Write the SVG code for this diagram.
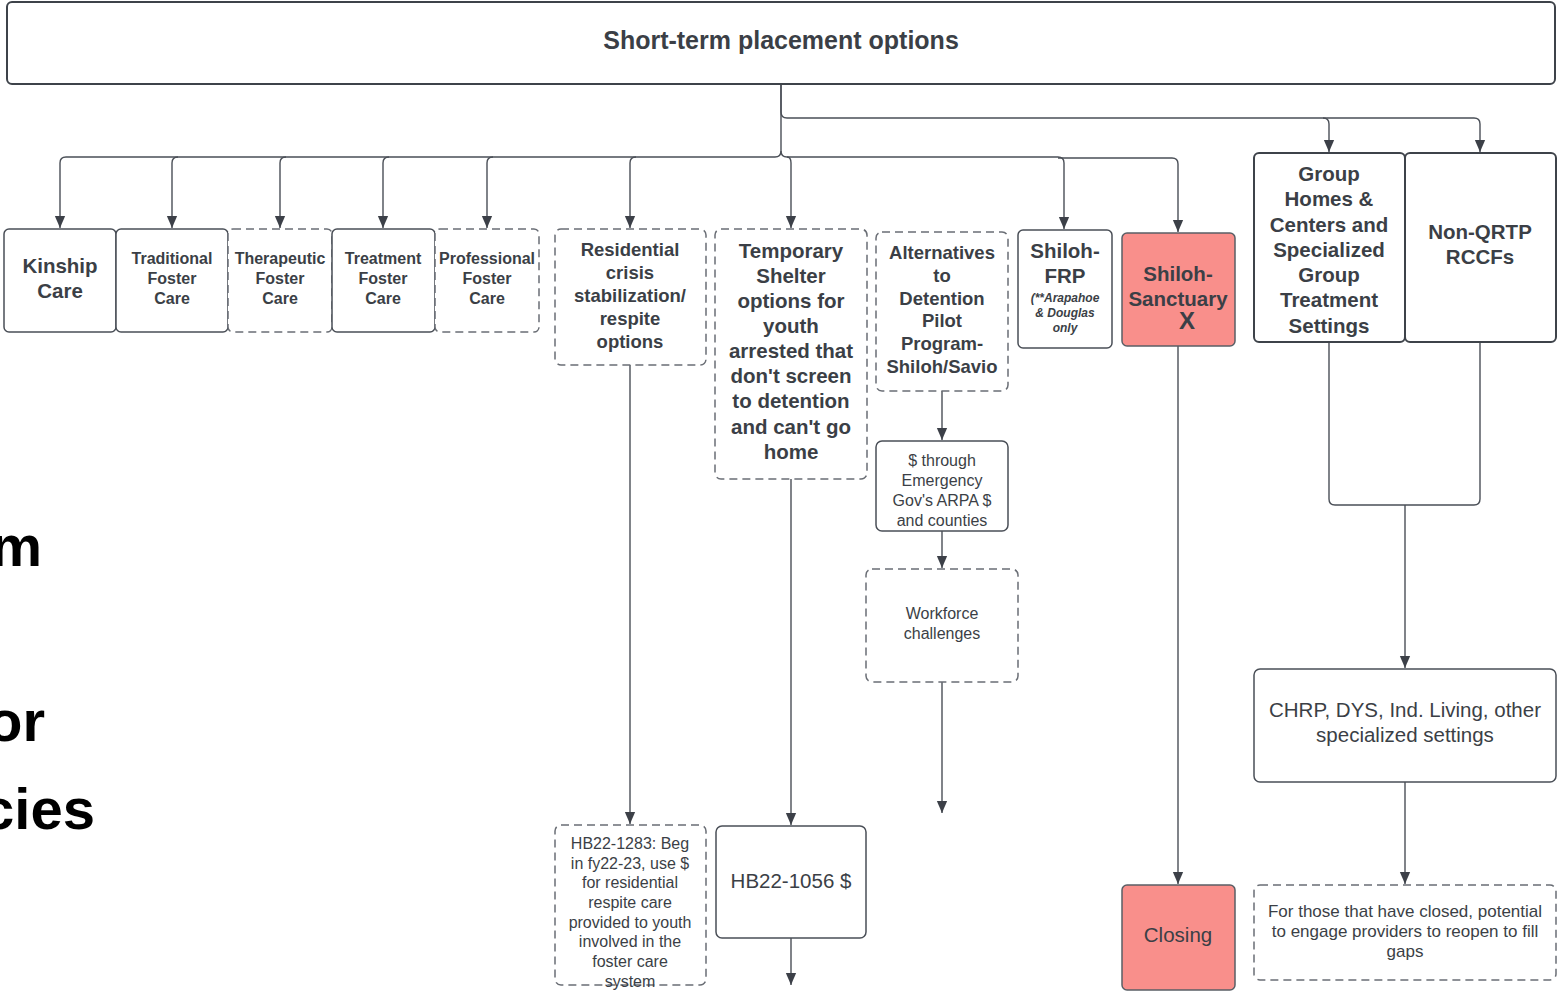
<svg xmlns="http://www.w3.org/2000/svg" width="1557" height="991" viewBox="0 0 1557 991">
<style>
.box{fill:#ffffff;stroke:#4a4f57;stroke-width:1.5}
.thick{stroke-width:2;stroke:#3e434a}
.dash{fill:#ffffff;stroke:#6a6e75;stroke-width:1.5;stroke-dasharray:8 5}
.red{fill:#f98f8b;stroke:#5a5f66;stroke-width:1.5}
.c{fill:none;stroke:#4a4f57;stroke-width:1.4}
text{font-family:"Liberation Sans",Arial,sans-serif;fill:#3b3f46;text-anchor:middle}
.b{font-weight:bold}
.t{font-size:25px;font-weight:bold}
.s16{font-size:16px}
.s185{font-size:18.5px}
.s205{font-size:20.5px}
.s17{font-size:17px}
.it{font-size:12px;font-weight:bold;font-style:italic}
.side{font-family:"Liberation Sans",Arial,sans-serif;font-weight:bold;font-size:58px;fill:#000;text-anchor:end}
</style>
<defs>
<marker id="a" markerUnits="userSpaceOnUse" markerWidth="12" markerHeight="14" viewBox="0 0 14 12" refX="14" refY="6" orient="auto">
<path d="M0,0 L14,6 L0,12 Z" fill="#3c4048"/>
</marker>
</defs>

<g id="side-text">
<text class="side" x="42" y="566">m</text>
<text class="side" x="45" y="741">or</text>
<text class="side" x="95" y="829">cies</text>
</g>

<g id="connectors">
<path class="c" d="M781 84 V112 Q781 118 787 118 H1323 Q1329 118 1329 124 V152" marker-end="url(#a)"/>
<path class="c" d="M1323 118 H1474 Q1480 118 1480 124 V152" marker-end="url(#a)"/>
<path class="c" d="M781 84 V151 Q781 157 775 157 H66 Q60 157 60 163 V228" marker-end="url(#a)"/>
<path class="c" d="M178 157 Q172 157 172 163 V228" marker-end="url(#a)"/>
<path class="c" d="M286 157 Q280 157 280 163 V228" marker-end="url(#a)"/>
<path class="c" d="M389 157 Q383 157 383 163 V228" marker-end="url(#a)"/>
<path class="c" d="M493 157 Q487 157 487 163 V228" marker-end="url(#a)"/>
<path class="c" d="M636 157 Q630 157 630 163 V228" marker-end="url(#a)"/>
<path class="c" d="M781 151 Q781 157 787 157 Q791 157 791 163 V228" marker-end="url(#a)"/>
<path class="c" d="M787 157 H1058 Q1064 157 1064 163 V229" marker-end="url(#a)"/>
<path class="c" d="M1058 158 H1172 Q1178 158 1178 164 V232" marker-end="url(#a)"/>
<path class="c" d="M630 365 V824" marker-end="url(#a)"/>
<path class="c" d="M791 479 V825" marker-end="url(#a)"/>
<path class="c" d="M791 938 V985" marker-end="url(#a)"/>
<path class="c" d="M942 391 V440" marker-end="url(#a)"/>
<path class="c" d="M942 531 V568" marker-end="url(#a)"/>
<path class="c" d="M942 682 V813" marker-end="url(#a)"/>
<path class="c" d="M1178 346 V884" marker-end="url(#a)"/>
<path class="c" d="M1329 342 V499 Q1329 505 1335 505 H1474 Q1480 505 1480 499 V342"/>
<path class="c" d="M1405 505 V668" marker-end="url(#a)"/>
<path class="c" d="M1405 782 V884" marker-end="url(#a)"/>
</g>

<g id="n-top">
<rect class="box thick" x="7" y="2" width="1548" height="82" rx="5"/>
<text class="t" x="781" y="49">Short-term placement options</text>
</g>

<g id="n-kinship">
<rect class="box" x="4" y="229" width="112" height="103" rx="5"/>
<text class="b s205"><tspan x="60" y="273">Kinship</tspan><tspan x="60" y="298">Care</tspan></text>
</g>
<g id="n-traditional">
<rect class="box" x="116" y="229" width="112" height="103" rx="5"/>
<text class="b s16"><tspan x="172" y="264">Traditional</tspan><tspan x="172" y="284">Foster</tspan><tspan x="172" y="304">Care</tspan></text>
</g>
<g id="n-therapeutic">
<rect class="dash" x="228" y="229" width="104" height="103" rx="5"/>
<text class="b s16"><tspan x="280" y="264">Therapeutic</tspan><tspan x="280" y="284">Foster</tspan><tspan x="280" y="304">Care</tspan></text>
</g>
<g id="n-treatment">
<rect class="box" x="332" y="229" width="103" height="103" rx="5"/>
<text class="b s16"><tspan x="383" y="264">Treatment</tspan><tspan x="383" y="284">Foster</tspan><tspan x="383" y="304">Care</tspan></text>
</g>
<g id="n-professional">
<rect class="dash" x="435" y="229" width="104" height="103" rx="5"/>
<text class="b s16"><tspan x="487" y="264">Professional</tspan><tspan x="487" y="284">Foster</tspan><tspan x="487" y="304">Care</tspan></text>
</g>

<g id="n-residential">
<rect class="dash" x="555" y="229" width="151" height="136" rx="6"/>
<text class="b s185"><tspan x="630" y="255.5">Residential</tspan><tspan x="630" y="278.5">crisis</tspan><tspan x="630" y="301.5">stabilization/</tspan><tspan x="630" y="324.5">respite</tspan><tspan x="630" y="347.5">options</tspan></text>
</g>

<g id="n-temporary">
<rect class="dash" x="715" y="229" width="152" height="250" rx="6"/>
<text class="b s205"><tspan x="791" y="258">Temporary</tspan><tspan x="791" y="283">Shelter</tspan><tspan x="791" y="308">options for</tspan><tspan x="791" y="333">youth</tspan><tspan x="791" y="358">arrested that</tspan><tspan x="791" y="383">don't screen</tspan><tspan x="791" y="408">to detention</tspan><tspan x="791" y="434">and can't go</tspan><tspan x="791" y="459">home</tspan></text>
</g>

<g id="n-alternatives">
<rect class="dash" x="876" y="232" width="132" height="159" rx="6"/>
<text class="b s185"><tspan x="942" y="258.5">Alternatives</tspan><tspan x="942" y="281.5">to</tspan><tspan x="942" y="304.5">Detention</tspan><tspan x="942" y="326.5">Pilot</tspan><tspan x="942" y="349.5">Program-</tspan><tspan x="942" y="372.5">Shiloh/Savio</tspan></text>
</g>

<g id="n-shiloh-frp">
<rect class="box" x="1018" y="230" width="94" height="118" rx="5"/>
<text class="b s205"><tspan x="1065" y="258">Shiloh-</tspan><tspan x="1065" y="283">FRP</tspan></text>
<text class="it"><tspan x="1065" y="302">(**Arapahoe</tspan><tspan x="1065" y="317">&amp; Douglas</tspan><tspan x="1065" y="332">only</tspan></text>
</g>

<g id="n-shiloh-sanctuary">
<rect class="red" x="1122" y="233" width="113" height="113" rx="5"/>
<text class="b s205"><tspan x="1178" y="281">Shiloh-</tspan><tspan x="1178" y="306">Sanctuary</tspan></text>
<text class="b" style="font-size:24px" x="1187" y="329">X</text>
</g>

<g id="n-group-homes">
<rect class="box thick" x="1254" y="153" width="151" height="189" rx="5"/>
<text class="b s205"><tspan x="1329" y="181">Group</tspan><tspan x="1329" y="206">Homes &amp;</tspan><tspan x="1329" y="232">Centers and</tspan><tspan x="1329" y="257">Specialized</tspan><tspan x="1329" y="282">Group</tspan><tspan x="1329" y="307">Treatment</tspan><tspan x="1329" y="333">Settings</tspan></text>
</g>

<g id="n-nonqrtp">
<rect class="box thick" x="1405" y="153" width="151" height="189" rx="5"/>
<text class="b s205"><tspan x="1480" y="239">Non-QRTP</tspan><tspan x="1480" y="264">RCCFs</tspan></text>
</g>

<g id="n-arpa">
<rect class="box" x="876" y="441" width="132" height="90" rx="6"/>
<text class="s16"><tspan x="942" y="465.5">$ through</tspan><tspan x="942" y="485.5">Emergency</tspan><tspan x="942" y="505.5">Gov's ARPA $</tspan><tspan x="942" y="525.5">and counties</tspan></text>
</g>

<g id="n-workforce">
<rect class="dash" x="866" y="569" width="152" height="113" rx="6"/>
<text class="s16"><tspan x="942" y="618.5">Workforce</tspan><tspan x="942" y="638.5">challenges</tspan></text>
</g>

<g id="n-hb1283">
<rect class="dash" x="555" y="825" width="151" height="160" rx="6"/>
<text class="s16"><tspan x="630" y="848.5">HB22-1283: Beg</tspan><tspan x="630" y="868.5">in fy22-23, use $</tspan><tspan x="630" y="887.5">for residential</tspan><tspan x="630" y="907.5">respite care</tspan><tspan x="630" y="927.5">provided to youth</tspan><tspan x="630" y="946.5">involved in the</tspan><tspan x="630" y="966.5">foster care</tspan><tspan x="630" y="986.5">system</tspan></text>
</g>

<g id="n-hb1056">
<rect class="box" x="716" y="826" width="150" height="112" rx="6"/>
<text class="s205" x="791" y="888">HB22-1056 $</text>
</g>

<g id="n-chrp">
<rect class="box" x="1254" y="669" width="302" height="113" rx="6"/>
<text class="s205"><tspan x="1405" y="717">CHRP, DYS, Ind. Living, other</tspan><tspan x="1405" y="742">specialized settings</tspan></text>
</g>

<g id="n-reopen">
<rect class="dash" x="1254" y="885" width="302" height="95" rx="6"/>
<text class="s17"><tspan x="1405" y="917">For those that have closed, potential</tspan><tspan x="1405" y="937">to engage providers to reopen to fill</tspan><tspan x="1405" y="957">gaps</tspan></text>
</g>

<g id="n-closing">
<rect class="red" x="1122" y="885" width="113" height="105" rx="5"/>
<text class="s205" x="1178" y="942">Closing</text>
</g>
</svg>
